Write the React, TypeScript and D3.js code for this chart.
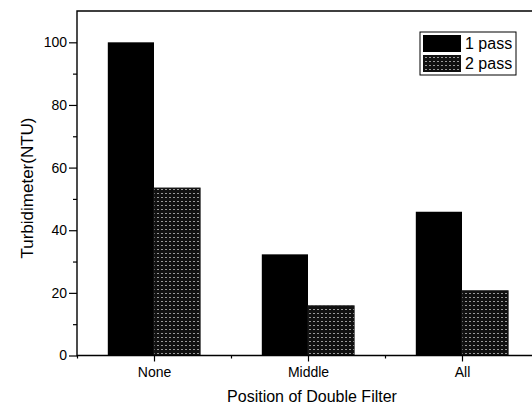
import React, { useEffect, useRef } from 'react';
import * as d3 from 'd3';

// chart data
const categories = ['None', 'Middle', 'All'];
const onePass = [100, 32.3, 45.9];
const twoPass = [53.5, 15.9, 20.7];
const seriesNames = ['1 pass', '2 pass'];
const yTicks = [0, 20, 40, 60, 80, 100];

const W = 532, H = 407;
const margin = { top: 11, left: 77, bottom: 51.5 };

const App = () => {
  const ref = useRef<SVGSVGElement>(null);

  useEffect(() => {
    const svg = d3.select(ref.current);
    svg.selectAll('*').remove();

    const font = '"Liberation Sans", Arial, sans-serif';

    // dotted fill for the second series
    const defs = svg.append('defs');
    const pat = defs.append('pattern')
      .attr('id', 'dots')
      .attr('patternUnits', 'userSpaceOnUse')
      .attr('width', 4).attr('height', 4);
    pat.append('rect').attr('width', 4).attr('height', 4).attr('fill', '#111');
    pat.append('rect').attr('x', 1).attr('y', 1).attr('width', 2).attr('height', 1).attr('fill', '#999');

    const x = d3.scaleLinear().domain([0.5, 3.5]).range([margin.left, margin.left + 462]);
    const y = d3.scaleLinear().domain([0, 110]).range([H - margin.bottom, margin.top]);
    const barW = 0.3;

    const g = svg.append('g');

    // bars
    const data = categories.map((c, i) => ({ c, i: i + 1, a: onePass[i], b: twoPass[i] }));
    g.selectAll('.bar1').data(data).enter().append('rect')
      .attr('x', d => x(d.i - barW))
      .attr('width', d => x(d.i) - x(d.i - barW))
      .attr('y', d => y(d.a))
      .attr('height', d => y(0) - y(d.a))
      .attr('fill', '#000');
    g.selectAll('.bar2').data(data).enter().append('rect')
      .attr('x', d => x(d.i))
      .attr('width', d => x(d.i + barW) - x(d.i))
      .attr('y', d => y(d.b))
      .attr('height', d => y(0) - y(d.b))
      .attr('fill', 'url(#dots)')
      .attr('stroke', '#222').attr('stroke-width', 0.8);

    // frame (left, top, bottom)
    g.append('path')
      .attr('d', `M${W + 5},${y(110)}H${x(0.5)}V${y(0)}H${W + 5}`)
      .attr('fill', 'none').attr('stroke', '#000').attr('stroke-width', 1.4);

    // y axis
    const yAxis = svg.append('g')
      .attr('transform', `translate(${x(0.5)},0)`)
      .call(d3.axisLeft(y).tickValues(yTicks).tickSize(8).tickPadding(2));
    yAxis.select('.domain').remove();
    yAxis.selectAll('text').attr('font-size', 14).attr('font-family', font).attr('fill', '#000');
    yAxis.selectAll('line').attr('stroke', '#000').attr('stroke-width', 1.2);
    const yMinor = svg.append('g')
      .attr('transform', `translate(${x(0.5)},0)`)
      .call(d3.axisLeft(y).tickValues(d3.range(10, 110, 20)).tickSize(4).tickFormat(() => ''));
    yMinor.select('.domain').remove();
    yMinor.selectAll('line').attr('stroke', '#000').attr('stroke-width', 1.2);

    // x axis
    const xAxis = svg.append('g')
      .attr('transform', `translate(0,${y(0)})`)
      .call(d3.axisBottom(x).tickValues([1, 2, 3]).tickSize(6).tickPadding(6)
        .tickFormat((d, i) => categories[i]));
    xAxis.select('.domain').remove();
    xAxis.selectAll('text').attr('font-size', 14).attr('font-family', font).attr('fill', '#000');
    xAxis.selectAll('line').attr('stroke', '#000').attr('stroke-width', 1.2);
    const xMinor = svg.append('g')
      .attr('transform', `translate(0,${y(0)})`)
      .call(d3.axisBottom(x).tickValues([0.5, 1.5, 2.5]).tickSize(3).tickFormat(() => ''));
    xMinor.select('.domain').remove();
    xMinor.selectAll('line').attr('stroke', '#000').attr('stroke-width', 1.2);

    // axis titles
    svg.append('text')
      .attr('transform', `translate(33,${188}) rotate(-90)`)
      .attr('text-anchor', 'middle')
      .attr('font-family', font).attr('font-size', 17)
      .text('Turbidimeter(NTU)');
    svg.append('text')
      .attr('x', 312).attr('y', 402)
      .attr('text-anchor', 'middle')
      .attr('font-family', font).attr('font-size', 16)
      .text('Position of Double Filter');

    // legend
    const lg = svg.append('g').attr('transform', 'translate(420,32)');
    lg.append('rect').attr('width', 96).attr('height', 43)
      .attr('fill', '#fff').attr('stroke', '#000').attr('stroke-width', 1);
    seriesNames.forEach((s, i) => {
      lg.append('rect')
        .attr('x', 3).attr('y', 3 + i * 20).attr('width', 38).attr('height', 17)
        .attr('fill', i === 0 ? '#000' : 'url(#dots)');
      lg.append('text')
        .attr('x', 45).attr('y', 17 + i * 20)
        .attr('font-family', font).attr('font-size', 16)
        .text(s);
    });
  }, []);

  return (
    <svg ref={ref} width={W} height={H}
      style={{ position: 'absolute', left: 0, top: 0, background: '#fff' }} />
  );
};

export default App;
